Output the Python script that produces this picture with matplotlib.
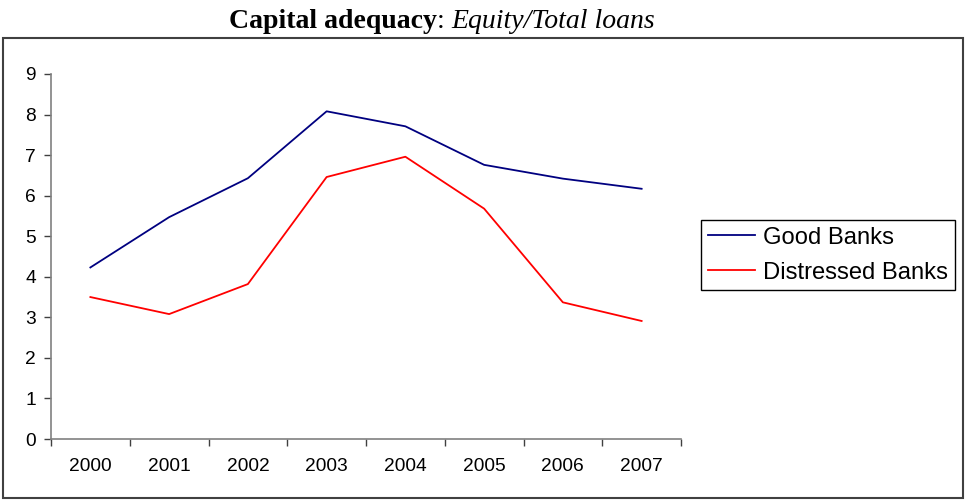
import matplotlib.pyplot as plt
from matplotlib.patches import Rectangle

years = ["2000", "2001", "2002", "2003", "2004", "2005", "2006", "2007"]
good_banks = [4.23, 5.47, 6.43, 8.08, 7.71, 6.76, 6.42, 6.17]
distressed_banks = [3.50, 3.08, 3.82, 6.46, 6.96, 5.68, 3.37, 2.91]

fig = plt.figure(figsize=(9.66, 5.01), dpi=100)
ax = fig.add_axes([51 / 966, 62 / 501, 630 / 966, 365 / 501])

x = range(len(years))
ax.plot(x, good_banks, color="#000080", lw=1.3, label="Good Banks")
ax.plot(x, distressed_banks, color="#ff0000", lw=1.3, label="Distressed Banks")

ax.set_xlim(-0.5, len(years) - 0.5)
ax.set_ylim(0, 9)
ax.set_yticks(range(10))
ax.set_xticks(list(x))
ax.set_xticklabels(years)
ax.set_xticks([i - 0.5 for i in range(len(years) + 1)], minor=True)

for side in ("top", "right"):
    ax.spines[side].set_visible(False)
for side in ("left", "bottom"):
    ax.spines[side].set_color("#808080")
    ax.spines[side].set_linewidth(1.2)

ax.tick_params(axis="x", which="major", length=0, pad=14, labelsize=13.8)
ax.tick_params(axis="x", which="minor", length=5, color="#404040", width=1)
ax.tick_params(axis="y", length=5, color="#404040", width=1, pad=6, labelsize=13.8)
for lbl in ax.get_xticklabels() + ax.get_yticklabels():
    lbl.set_fontfamily("Liberation Sans")

# chart border
fig.patches.append(Rectangle((3 / 966, 3 / 501), 960 / 966, 460 / 501,
                             transform=fig.transFigure, fill=False,
                             edgecolor="#404040", lw=1.5))

leg = fig.legend(loc="upper left", bbox_to_anchor=(701 / 966, 281 / 501),
                 prop={"family": "Liberation Sans", "size": 17.1},
                 handlelength=2.0, handletextpad=0.35, borderpad=0.28,
                 labelspacing=0.55, fancybox=False, framealpha=1,
                 borderaxespad=0)
leg.get_frame().set_edgecolor("black")
leg.get_frame().set_linewidth(1)

# title in three parts: bold, plain, italic
t1 = fig.text(229 / 966, 467 / 501, "Capital adequacy", fontfamily="Liberation Serif",
              fontweight="bold", fontsize=20, ha="left", va="bottom")
t2 = ax.annotate(": ", xy=(1, 0), xycoords=t1, ha="left", va="bottom",
                 fontfamily="Liberation Serif", fontsize=20, annotation_clip=False)
t3 = ax.annotate("Equity/Total loans", xy=(1, 0), xycoords=t2, ha="left", va="bottom",
                 fontfamily="Liberation Serif", fontstyle="italic", fontsize=20,
                 annotation_clip=False)

plt.savefig("out.png", dpi=100)
